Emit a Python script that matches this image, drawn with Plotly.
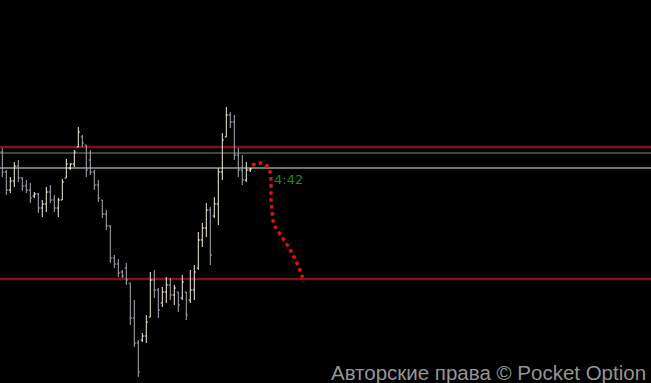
import plotly.graph_objects as go

# OHLC data (price units; higher = higher on chart)
bar_index = list(range(63))
highs_px = [148,170,177,162,160,177,180,183,192,193,200,187,185,195,198,179,159,163,150,127,
            135,145,150,170,180,200,210,225,255,259,270,263,283,300,340,333,315,272,270,288,
            287,277,278,285,292,275,292,270,265,232,223,203,207,197,168,133,107,112,115,148,
            155,162,168]
lows_px = [177,195,193,187,182,191,193,203,198,213,217,212,203,212,217,200,178,170,167,147,
           147,177,175,190,202,218,230,263,268,277,278,285,325,347,377,342,343,317,298,318,
           307,303,300,305,312,300,320,303,300,270,247,237,265,218,225,180,137,128,160,177,
           185,182,172]
opens_px = [152,172,190,181,166,178,186,190,196,194,208,204,192,200,208,200,178,168,164,147,
            137,145,160,172,185,200,214,226,258,264,272,268,283,318,343,340,336,317,280,290,
            303,292,285,295,292,298,292,300,290,268,240,228,210,216,204,172,137,115,122,155,
            170,180,170]
closes_px = [172,190,181,166,178,186,190,198,194,208,204,192,200,208,200,182,164,164,152,132,
             143,170,172,185,198,214,226,258,264,273,276,280,318,343,372,336,322,280,290,310,
             292,285,295,288,305,282,315,290,272,240,228,210,255,204,172,140,115,122,155,170,
             180,170,169]
BASE = 400
opens = [BASE - v for v in opens_px]
highs = [BASE - v for v in highs_px]
lows = [BASE - v for v in lows_px]
closes = [BASE - v for v in closes_px]

# Horizontal levels
level_red_top = BASE - 147
level_gray = BASE - 153
level_white = BASE - 168
level_red_bottom = BASE - 279

# Forecast path (bar index, price)
fc_px_x = [252,256,260,264,268,270,271,271,271,272,273,276,280,284,288,292,296,299,302,303]
fc_px_y = [165,164,163,164,167,172,180,190,200,210,220,228,234,240,246,253,261,268,276,282]
forecast_x = [(v - 2.3) / 4.0 for v in fc_px_x]
forecast_price = [BASE - v for v in fc_px_y]

timer_label = "4:42"
watermark = "Авторские права © Pocket Option"

fig = go.Figure()

x_lo, x_hi = -0.575, 162.175

def hline(y, color, width):
    fig.add_shape(type="line", xref="x", yref="y", x0=x_lo, x1=x_hi, y0=y, y1=y,
                  line=dict(color=color, width=width), layer="below")

hline(level_red_top, "#400a0a", 3)
hline(level_red_top, "#c01c1c", 1)
hline(level_gray, "#858585", 1)
hline(level_white, "#e6e6e6", 1)
hline(level_red_bottom, "#400a0a", 3)
hline(level_red_bottom, "#c01c1c", 1)

fig.add_trace(go.Ohlc(
    x=bar_index, open=opens, high=highs, low=lows, close=closes,
    increasing=dict(line=dict(color="#f4efe2", width=1)),
    decreasing=dict(line=dict(color="#a9adb5", width=1)),
    tickwidth=0.4, hoverinfo="skip", showlegend=False,
))

fig.add_trace(go.Scatter(
    x=forecast_x, y=forecast_price, mode="lines",
    line=dict(color="#d81414", width=3.5, dash="dot", shape="spline"),
    hoverinfo="skip", showlegend=False,
))

fig.add_annotation(x=(275 - 2.3) / 4.0, y=BASE - 179, xref="x", yref="y", text=timer_label,
                   showarrow=False, xanchor="left", yanchor="middle", xshift=-3,
                   font=dict(family="DejaVu Sans", size=13, color="#1f8a1f"))

fig.add_annotation(x=648 / 651, y=1 - 372 / 383, xref="paper", yref="paper", text=watermark,
                   showarrow=False, xanchor="right", yanchor="middle",
                   font=dict(family="Liberation Sans", size=20.5, color="#959595"))

fig.update_layout(
    width=651, height=383, margin=dict(l=0, r=0, t=0, b=0),
    paper_bgcolor="#000000", plot_bgcolor="#000000",
    xaxis=dict(range=[x_lo, x_hi], visible=False, showgrid=False, zeroline=False,
               rangeslider=dict(visible=False)),
    yaxis=dict(range=[BASE - 383, BASE], visible=False, showgrid=False, zeroline=False),
    showlegend=False,
)

fig.write_html("out.html")
